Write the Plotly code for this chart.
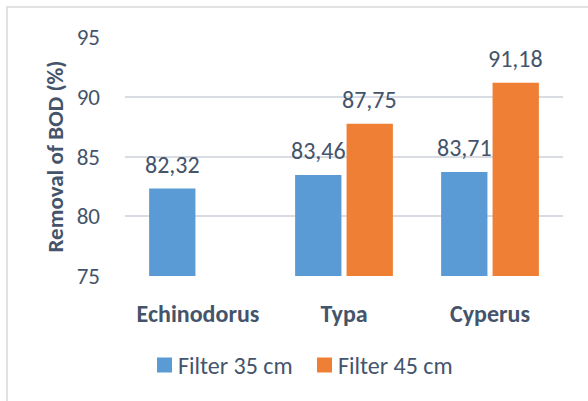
import plotly.graph_objects as go

# Plant species and BOD removal (%) for each filter depth
species = ["Echinodorus", "Typa", "Cyperus"]
filter_35 = [82.32, 83.46, 83.71]
filter_45 = [None, 87.75, 91.18]
series_names = ["Filter 35 cm", "Filter 45 cm"]
series_colors = ["#5B9BD5", "#EE7F35"]
y_ticks = [75, 80, 85, 90, 95]

TEXT = "#44546A"
FONT = "Carlito, Lato, sans-serif"

# plot-area geometry (pixels)
W, H = 588, 401
L, R, T, B = 125, 25, 37, 125
PW, PH = W - L - R, H - T - B


def px_x(px):
    return (px - L) / PW


def px_y(py):
    return (H - B - py) / PH


def fmt(v):
    return f"{v:.2f}".replace(".", ",")


BARGAP = 0.295
GROUPGAP = 0.1
slot_px = PW / len(species) * (1 - BARGAP) / 2
offsets = [-slot_px / 2, slot_px / 2]

fig = go.Figure()
annotations = []
for k, (name, vals) in enumerate(zip(series_names, [filter_35, filter_45])):
    fig.add_trace(go.Bar(
        x=species,
        y=vals,
        name=name,
        marker=dict(color=series_colors[k], line=dict(width=0)),
        showlegend=False,
        hoverinfo="x+y+name",
    ))
    for cat, v in zip(species, vals):
        if v is None:
            continue
        annotations.append(dict(
            x=cat, y=v, xref="x", yref="y",
            text=fmt(v), showarrow=False,
            xanchor="center", yanchor="bottom",
            xshift=offsets[k], yshift=8,
            font=dict(family=FONT, size=24, color=TEXT),
        ))

# legend: coloured squares with labels beneath the plot
shapes = [
    dict(
        type="rect", xref="paper", yref="paper",
        x0=px_x(7), x1=px_x(W + 20), y0=px_y(H + 20), y1=px_y(7),
        line=dict(color="#D9D9D9", width=1.5),
        fillcolor="rgba(0,0,0,0)", layer="below",
    )
]
legend_left = [157, 317]
for k, name in enumerate(series_names):
    x0 = legend_left[k]
    shapes.append(dict(
        type="rect", xref="paper", yref="paper",
        x0=px_x(x0), x1=px_x(x0 + 15), y0=px_y(372.5), y1=px_y(357.5),
        line=dict(width=0), fillcolor=series_colors[k],
    ))
    annotations.append(dict(
        x=px_x(x0 + 19), y=px_y(365), xref="paper", yref="paper",
        text=name, showarrow=False, xanchor="left", yanchor="middle",
        font=dict(family=FONT, size=24, color=TEXT),
    ))

fig.update_layout(
    width=W,
    height=H,
    margin=dict(l=L, r=R, t=T, b=B),
    paper_bgcolor="white",
    plot_bgcolor="white",
    barmode="group",
    bargap=BARGAP,
    bargroupgap=GROUPGAP,
    font=dict(family=FONT, color=TEXT),
    showlegend=False,
    xaxis=dict(
        showgrid=False,
        showline=False,
        zeroline=False,
        ticks="",
        tickfont=dict(family=FONT, size=24, color=TEXT, weight="bold"),
        ticklabelstandoff=21,
    ),
    yaxis=dict(
        range=[75, 95],
        tickvals=y_ticks,
        showgrid=True,
        gridcolor="#D9DDE3",
        gridwidth=1.5,
        zeroline=False,
        showline=False,
        ticks="",
        tickfont=dict(family=FONT, size=23, color=TEXT),
        ticklabelstandoff=24,
        title=dict(
            text="<b>Removal of BOD (%)</b>",
            font=dict(family=FONT, size=23, color=TEXT),
            standoff=6,
        ),
    ),
    shapes=shapes,
    annotations=annotations,
)

fig.write_html("out.html")
